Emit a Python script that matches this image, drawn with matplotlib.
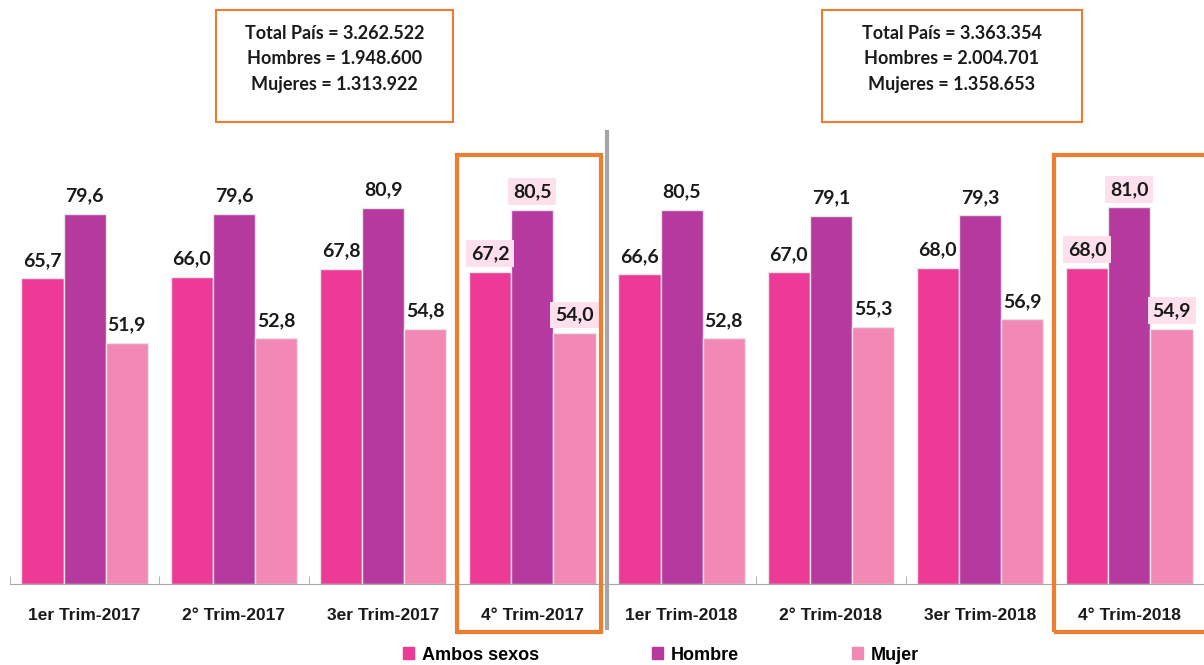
import numpy as np
import matplotlib.pyplot as plt
from matplotlib.patches import Rectangle, Patch

# datos
trimestres = ['1er Trim-2017', '2° Trim-2017', '3er Trim-2017', '4° Trim-2017',
              '1er Trim-2018', '2° Trim-2018', '3er Trim-2018', '4° Trim-2018']
ambos = [65.7, 66.0, 67.8, 67.2, 66.6, 67.0, 68.0, 68.0]
hombre = [79.6, 79.6, 80.9, 80.5, 80.5, 79.1, 79.3, 81.0]
mujer = [51.9, 52.8, 54.8, 54.0, 52.8, 55.3, 56.9, 54.9]
series = ['Ambos sexos', 'Hombre', 'Mujer']
colores = ['#ee3a97', '#b5399f', '#f288b4']
destacados = [3, 7]

texto_2017 = 'Total País = 3.262.522\nHombres = 1.948.600\nMujeres = 1.313.922'
texto_2018 = 'Total País = 3.363.354\nHombres = 2.004.701\nMujeres = 1.358.653'

W, H = 1204, 665
fig = plt.figure(figsize=(W / 100, H / 100), dpi=100)
ax = fig.add_axes([10 / W, 81 / H, 1 - 10 / W, 1 - 81 / H])

x = np.arange(len(trimestres))
ancho = 0.283
valores = [ambos, hombre, mujer]
for k in range(3):
    pos = x + (k - 1) * ancho
    ax.bar(pos, valores[k], width=ancho, color=colores[k], edgecolor='#e6e6e6',
           linewidth=1.0, label=series[k])
    for i in range(len(x)):
        v = valores[k][i]
        txt = ('%.1f' % v).replace('.', ',')
        kw = {}
        if i in destacados:
            kw['bbox'] = dict(boxstyle='square,pad=0.25', fc='#fde0ec', ec='none')
        ax.annotate(txt, (pos[i], v), xytext=(0, 9), textcoords='offset points',
                    ha='center', va='baseline', fontsize=14, fontweight='bold',
                    family=['Lato', 'DejaVu Sans'], color='#1a1a1a', **kw)

ax.set_xlim(-0.5, 7.5)
ax.set_ylim(0, 584 / 4.65)
ax.set_yticks([])
for s in ['top', 'right', 'left']:
    ax.spines[s].set_visible(False)
ax.spines['bottom'].set_color('#a6a6a6')
ax.set_xticks(x)
ax.set_xticklabels(trimestres, fontsize=12.5, fontweight='bold',
                   family='Liberation Sans', color='#1a1a1a')
ax.tick_params(axis='x', which='major', length=0, pad=17)
ax.set_xticks(np.arange(-0.5, 8, 1), minor=True)
ax.tick_params(axis='x', which='minor', direction='in', length=6, color='#a6a6a6')

# separador entre años
fig.add_artist(plt.Line2D([606.5 / W, 606.5 / W], [1 - 132 / H, 1 - 628 / H],
                          color='#a6a6a6', lw=3))

# recuadros naranjas de los cuartos trimestres
for x0, x1 in [(457, 601), (1054, 1210)]:
    fig.add_artist(Rectangle((x0 / W, 1 - 632 / H), (x1 - x0) / W, (632 - 155) / H,
                             transform=fig.transFigure, fill=False,
                             ec='#ed7d31', lw=3))

# cajas de totales
for (x0, x1), txt in [((216, 453), texto_2017), ((822, 1082), texto_2018)]:
    fig.add_artist(Rectangle((x0 / W, 1 - 122 / H), (x1 - x0) / W, 112 / H,
                             transform=fig.transFigure, fill=False,
                             ec='#ed7d31', lw=1.5))
    fig.text((x0 + x1) / 2 / W, 1 - 59 / H, txt, ha='center', va='center',
             fontsize=13, fontweight='bold', family=['Lato', 'DejaVu Sans'],
             linespacing=1.58, color='#1a1a1a')

manijas = [Patch(color=c) for c in colores]
fig.legend(manijas, series, loc='center', bbox_to_anchor=(661 / W, 1 - 655 / H),
           ncol=3, frameon=False, handlelength=0.6, handleheight=0.6,
           handletextpad=0.4, columnspacing=6.3,
           prop={'family': 'Liberation Sans', 'weight': 'bold', 'size': 13})

fig.savefig('out.png', dpi=100)
